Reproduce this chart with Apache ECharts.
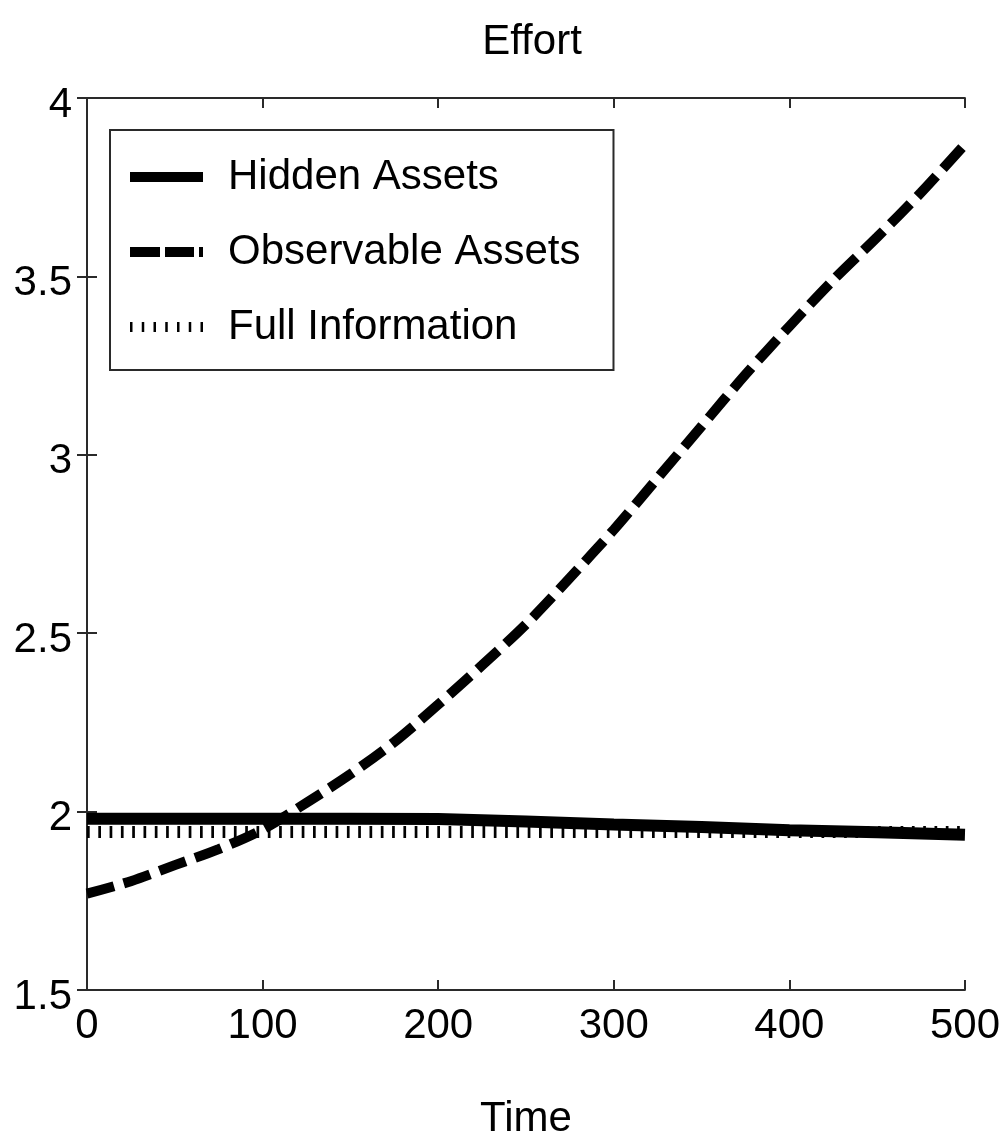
<!DOCTYPE html>
<html>
<head>
<meta charset="utf-8">
<script src="https://cdn.jsdelivr.net/npm/echarts@6/dist/echarts.min.js"></script>
<style>
html,body{margin:0;padding:0;background:#fff;}
#chart{width:1003px;height:1147px;}
</style>
</head>
<body>
<div id="chart"></div>
<script>
// ---- data ----
var obsTime = [0,25,50,75,100,125,150,175,200,225,250,275,300,325,350,375,400,425,450,475,500];
var observableAssets = [1.77,1.805,1.85,1.895,1.95,2.025,2.105,2.195,2.30,2.41,2.525,2.655,2.79,2.935,3.08,3.225,3.36,3.49,3.61,3.735,3.87];
var hidTime = [0,50,100,150,200,250,300,350,400,450,500];
var hiddenAssets = [1.98,1.98,1.98,1.98,1.979,1.972,1.964,1.957,1.948,1.942,1.935];
var fullTime = [0,500];
var fullInformation = [1.943,1.943];
var seriesNames = ['Hidden Assets','Observable Assets','Full Information'];
var titleText = 'Effort';
var xName = 'Time';

function pairs(xs, ys){ return xs.map(function(x,i){ return [x, ys[i]]; }); }

var FONT = '"Liberation Sans Narrow","Liberation Sans",Arial,sans-serif';
var FS = 42;
var chart = echarts.init(document.getElementById('chart'));
var axisLine = {show:true, lineStyle:{color:'#2a2a2a', width:2}};
var tick = {show:true, inside:true, length:10, lineStyle:{color:'#2a2a2a', width:2}};

var iconSolid = 'path://M0,0H73V10H0Z';
var iconDash = 'path://M0,0H30V10H0Z M35,0H64V10H35Z M69,0H73V10H69Z';
var iconDot = 'path://M0,0H2.5V10H0Z M11.75,0H14.25V10H11.75Z M23.5,0H26V10H23.5Z M35.25,0H37.75V10H35.25Z M47,0H49.5V10H47Z M58.75,0H61.25V10H58.75Z M70.5,0H73V10H70.5Z';

chart.setOption({
  backgroundColor:'#ffffff',
  animation:false,
  title:{text:titleText, left:527, textAlign:'center', top:16,
    textStyle:{fontFamily:FONT, fontSize:FS, fontWeight:'normal', color:'#000'}},
  grid:{left:87, right:36, top:98, bottom:157},
  legend:{
    left:110, top:130, orient:'vertical',
    backgroundColor:'#fff',
    borderColor:'#2a2a2a', borderWidth:2,
    padding:[22,33,18,20],
    itemGap:25, itemWidth:73, itemHeight:10,
    textStyle:{fontFamily:FONT, fontSize:FS, color:'#000', lineHeight:50, padding:[0,0,0,20]},
    data:[
      {name:seriesNames[0], icon:iconSolid, itemStyle:{color:'#000'}},
      {name:seriesNames[1], icon:iconDash, itemStyle:{color:'#000'}},
      {name:seriesNames[2], icon:iconDot, itemStyle:{color:'#000'}}
    ]
  },
  xAxis:[{
    type:'value', min:0, max:500, interval:100, position:'bottom',
    name:xName, nameLocation:'middle', nameGap:108,
    nameTextStyle:{fontFamily:FONT, fontSize:FS, color:'#000'},
    axisLine:axisLine, axisTick:tick, splitLine:{show:false},
    axisLabel:{fontFamily:FONT, fontSize:FS, color:'#000', margin:15}
  },{
    type:'value', min:0, max:500, interval:100, position:'top',
    axisLine:axisLine, axisTick:tick, splitLine:{show:false}, axisLabel:{show:false}
  }],
  yAxis:[{
    type:'value', min:1.5, max:4, interval:0.5, position:'left',
    axisLine:axisLine, axisTick:tick, splitLine:{show:false},
    axisLabel:{fontFamily:FONT, fontSize:FS, color:'#000', margin:15, verticalAlign:'top', lineHeight:14}
  },{
    type:'value', min:1.5, max:4, interval:0.5, position:'right',
    axisLine:axisLine, axisTick:tick, splitLine:{show:false}, axisLabel:{show:false}
  }],
  series:[
    {name:seriesNames[2], type:'line', data:pairs(fullTime, fullInformation), showSymbol:false, symbol:'none', z:2,
      lineStyle:{color:'#000', width:12, type:[2.7,8.6], cap:'butt'}, itemStyle:{color:'#000'}},
    {name:seriesNames[0], type:'line', data:pairs(hidTime, hiddenAssets), showSymbol:false, symbol:'none', z:3,
      lineStyle:{color:'#000', width:12}, itemStyle:{color:'#000'}},
    {name:seriesNames[1], type:'line', data:pairs(obsTime, observableAssets), showSymbol:false, symbol:'none', smooth:0.3, z:4,
      lineStyle:{color:'#000', width:10, type:[28,10], cap:'butt'}, itemStyle:{color:'#000'}}
  ]
});
</script>
</body>
</html>
